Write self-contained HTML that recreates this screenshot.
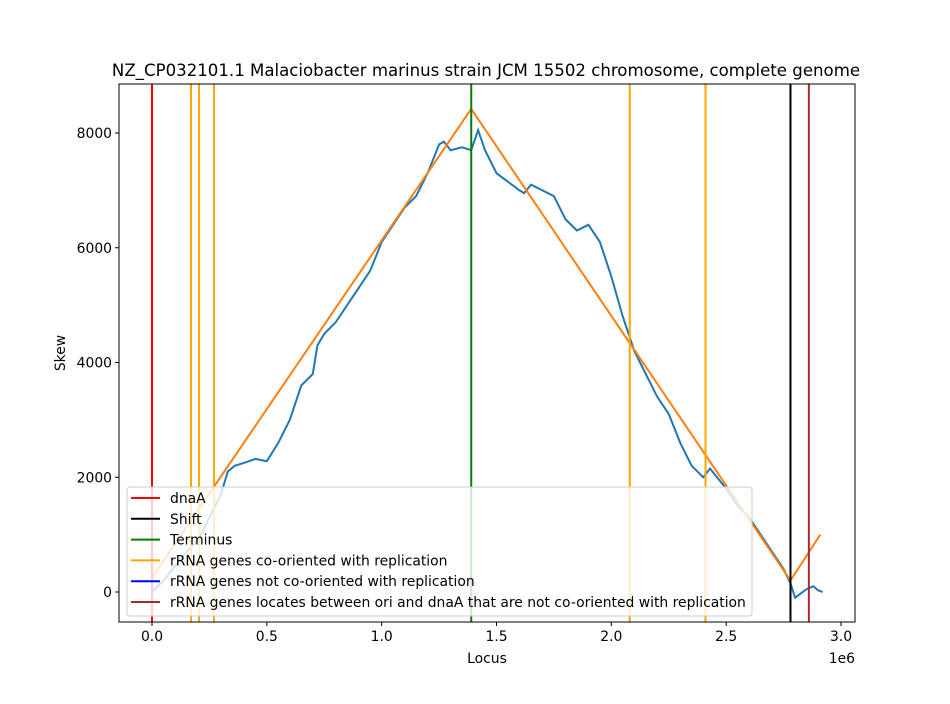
<!DOCTYPE html>
<html><head><meta charset="utf-8"><style>
body{margin:0;background:#fff;font-family:"DejaVu Sans","Liberation Sans",sans-serif}
svg text{font-family:"DejaVu Sans","Liberation Sans",sans-serif}
</style></head><body>
<svg id="chart" width="950" height="700" xmlns="http://www.w3.org/2000/svg">
<rect width="950" height="700" fill="#fff"/>
<text x="486" y="76" font-size="16.6" text-anchor="middle">NZ_CP032101.1 Malaciobacter marinus strain JCM 15502 chromosome, complete genome</text>
<g id="plot"></g>
</svg>
<script>
const loci=[0,0.05,0.1,0.15,0.2,0.25,0.3,0.33,0.36,0.4,0.45,0.5,0.55,0.6,0.65,0.7,0.72,0.75,0.8,0.85,0.9,0.95,1.0,1.05,1.1,1.15,1.2,1.25,1.27,1.3,1.35,1.39,1.42,1.45,1.5,1.55,1.6,1.62,1.65,1.7,1.75,1.8,1.85,1.9,1.95,2.0,2.05,2.1,2.15,2.2,2.25,2.3,2.35,2.4,2.43,2.5,2.55,2.6,2.65,2.7,2.75,2.78,2.8,2.85,2.88,2.9,2.92];
const skew=[0,200,450,700,900,1300,1700,2100,2200,2250,2320,2280,2600,3000,3600,3800,4300,4500,4700,5000,5300,5600,6100,6400,6700,6900,7300,7800,7850,7700,7750,7700,8050,7700,7300,7150,7000,6950,7100,7000,6900,6500,6300,6400,6100,5500,4800,4200,3800,3400,3100,2600,2200,2000,2150,1800,1500,1300,1000,700,400,150,-100,50,100,30,0];
const fitX=[0,1.39,2.78,2.91];
const fitY=[250,8420,200,1000];
const xTicks=[0,0.5,1.0,1.5,2.0,2.5,3.0];
const xTickLabels=["0.0","0.5","1.0","1.5","2.0","2.5","3.0"];
const yTicks=[0,2000,4000,6000,8000];
const dnaA=[0];
const shiftPos=[2.78];
const terminusPos=[1.39];
const rrnaCo=[0.17,0.205,0.27,2.08,2.41];
const rrnaBetween=[2.86];
const L=119,R=855,T=84,B=622;
const FS=13.9;
function sx(v){return 152+v*229.67;}
function sy(v){return 592-v*0.057375;}
const NS="http://www.w3.org/2000/svg";
const g=document.getElementById('plot');
function mk(tag,attrs,parent){const e=document.createElementNS(NS,tag);for(const k in attrs)e.setAttribute(k,attrs[k]);(parent||g).appendChild(e);return e;}
let d=loci.map((x,i)=>(i?'L':'M')+sx(x).toFixed(1)+','+sy(skew[i]).toFixed(1)).join(' ');
let p=mk('path',{d:d,fill:'none',stroke:'#1f77b4','stroke-width':2});


d=fitX.map((x,i)=>(i?'L':'M')+sx(x).toFixed(1)+','+sy(fitY[i]).toFixed(1)).join(' ');
p=mk('path',{d:d,fill:'none',stroke:'#ff7f0e','stroke-width':2});


function vlines(arr,col,name){arr.forEach(v=>{const l=mk('line',{x1:sx(v),x2:sx(v),y1:T,y2:B,stroke:col,'stroke-width':2});

});}
vlines(dnaA,'#ff0000','dnaA-line');
vlines(shiftPos,'#000000','shift-line');
vlines(terminusPos,'#008000','terminus-line');
vlines(rrnaCo,'#ffa500','rrna-co-oriented-line');
vlines(rrnaBetween,'#a52a2a','rrna-between-line');
let fr=mk('rect',{x:L,y:T,width:R-L,height:B-T,fill:'none',stroke:'#000','stroke-width':1});


xTicks.forEach((v,i)=>{mk('line',{x1:sx(v),x2:sx(v),y1:B,y2:B+4,stroke:'#000'});
const t=mk('text',{x:sx(v),y:B+19,'font-size':FS,'text-anchor':'middle'});t.textContent=xTickLabels[i];

});
yTicks.forEach(v=>{mk('line',{x1:L-4,x2:L,y1:sy(v),y2:sy(v),stroke:'#000'});
const t=mk('text',{x:L-7,y:sy(v)+5,'font-size':FS,'text-anchor':'end'});t.textContent=v;

});
let t=mk('text',{x:R,y:B+41,'font-size':FS,'text-anchor':'end'});t.textContent='1e6';


t=mk('text',{x:487,y:663,'font-size':FS,'text-anchor':'middle'});t.textContent='Locus';


t=mk('text',{x:65,y:353,'font-size':FS,'text-anchor':'middle',transform:'rotate(-90 65 353)'});t.textContent='Skew';


const lg=mk('g',{});


mk('rect',{x:127,y:487,width:625,height:129,rx:3,fill:'#fff','fill-opacity':0.8,stroke:'#ccc'},lg);
const legLabels=["dnaA","Shift","Terminus","rRNA genes co-oriented with replication","rRNA genes not co-oriented with replication","rRNA genes locates between ori and dnaA that are not co-oriented with replication"];
const legColors=['#ff0000','#000000','#008000','#ffa500','#0000ff','#a52a2a'];
legLabels.forEach((s,i)=>{const y=498+i*20.8;
mk('line',{x1:131,x2:160,y1:y,y2:y,stroke:legColors[i],'stroke-width':2},lg);
const e=mk('text',{x:170,y:y+5,'font-size':FS},lg);e.textContent=s;

});
</script>
</body></html>
